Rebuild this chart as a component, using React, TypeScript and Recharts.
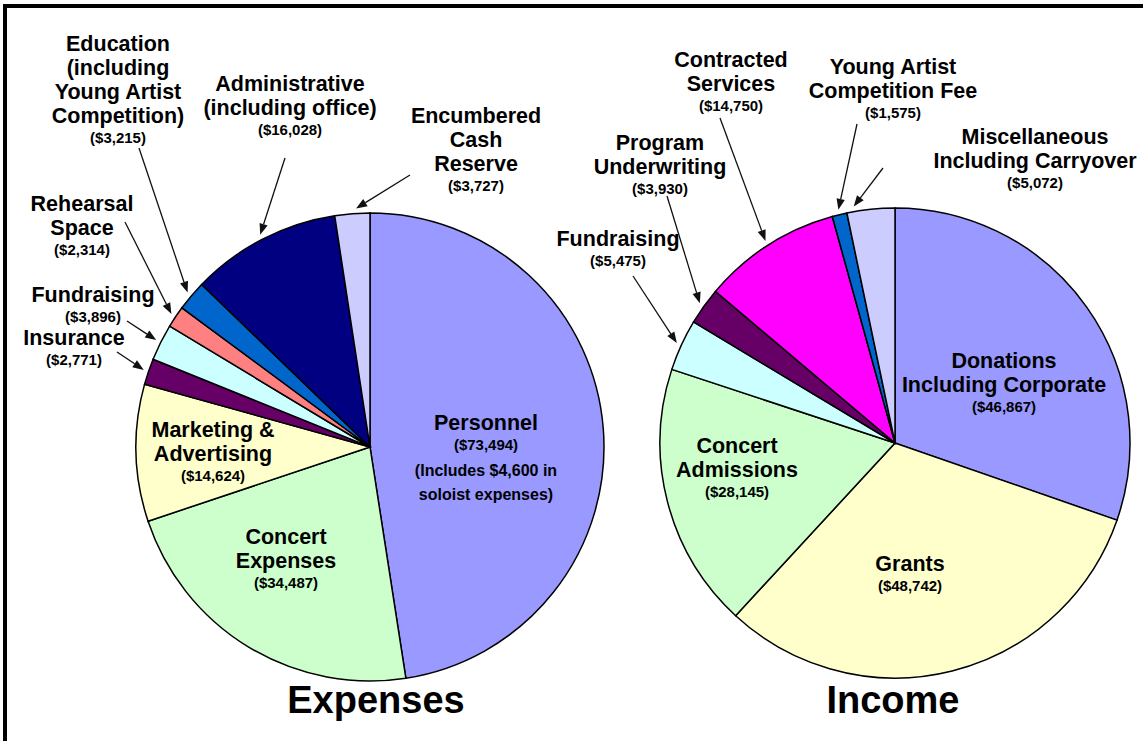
import { PieChart, Pie, Cell } from "recharts";

// ---- data ----
const expenseNames = [
  "Personnel",
  "Concert Expenses",
  "Marketing & Advertising",
  "Insurance",
  "Fundraising",
  "Rehearsal Space",
  "Education",
  "Administrative",
  "Encumbered Cash Reserve",
];
const expenseValues = [73494, 34487, 14624, 2771, 3896, 2314, 3215, 16028, 3727];
const expenseColors = ["#9999FF", "#CCFFCC", "#FFFFCC", "#660066", "#CCFFFF", "#FF8080", "#0066CC", "#000080", "#CCCCFF"];
const expenseLabelLines = [
  ["Personnel"],
  ["Concert", "Expenses"],
  ["Marketing &", "Advertising"],
  ["Insurance"],
  ["Fundraising"],
  ["Rehearsal", "Space"],
  ["Education", "(including", "Young Artist", "Competition)"],
  ["Administrative", "(including office)"],
  ["Encumbered", "Cash", "Reserve"],
];
const personnelNote = ["(Includes $4,600 in", "soloist expenses)"];

const incomeNames = [
  "Donations Including Corporate",
  "Grants",
  "Concert Admissions",
  "Fundraising",
  "Program Underwriting",
  "Contracted Services",
  "Young Artist Competition Fee",
  "Miscellaneous Including Carryover",
];
const incomeValues = [46867, 48742, 28145, 5475, 3930, 14750, 1575, 5072];
const incomeColors = ["#9999FF", "#FFFFCC", "#CCFFCC", "#CCFFFF", "#660066", "#FF00FF", "#0066CC", "#CCCCFF"];
const incomeLabelLines = [
  ["Donations", "Including Corporate"],
  ["Grants"],
  ["Concert", "Admissions"],
  ["Fundraising"],
  ["Program", "Underwriting"],
  ["Contracted", "Services"],
  ["Young Artist", "Competition Fee"],
  ["Miscellaneous", "Including Carryover"],
];

// ---- label placement, relative to each pie's centre ----
// dx/dy = first text line; tail = where the callout arrow starts; shift = nudge of tip angle (deg)
type Place = { dx: number; dy: number; tail?: [number, number]; shift?: number };

const expensePlaces: Place[] = [
  { dx: 116, dy: -24 },
  { dx: -84, dy: 90 },
  { dx: -157, dy: -17 },
  { dx: -296, dy: -109, tail: [-253, -95] },
  { dx: -277, dy: -152, tail: [-243, -126] },
  { dx: -288, dy: -243, tail: [-245, -225] },
  { dx: -252, dy: -403, tail: [-231, -299] },
  { dx: -80, dy: -363, tail: [-85, -289] },
  { dx: 106, dy: -331, tail: [40, -272], shift: -1 },
];

const incomePlaces: Place[] = [
  { dx: 109, dy: -82 },
  { dx: 15, dy: 121 },
  { dx: -158, dy: 3 },
  { dx: -277, dy: -204, tail: [-262, -167] },
  { dx: -235, dy: -300, tail: [-228, -247] },
  { dx: -164, dy: -383, tail: [-175, -325] },
  { dx: -2, dy: -376, tail: [-38, -319] },
  { dx: 140, dy: -306, tail: [-12, -275], shift: 4 },
];

const FONT = '"Liberation Sans", Arial, Helvetica, sans-serif';
const RAD = Math.PI / 180;
const LINE = 24;

const money = (v: number) => `($${v.toLocaleString("en-US")})`;

function makeLabel(lines: string[][], places: Place[], note?: { index: number; lines: string[] }) {
  return (props: any) => {
    const { cx, cy, midAngle, outerRadius, index, value } = props;
    const p = places[index];
    const ls = lines[index];
    const x = cx + p.dx;
    const y0 = cy + p.dy;
    const valueY = y0 + (ls.length - 1) * LINE + 21;

    let arrow = null;
    if (p.tail) {
      const a = (midAngle + (p.shift || 0)) * RAD;
      const r = outerRadius + 5;
      const tx = cx + r * Math.cos(a);
      const ty = cy - r * Math.sin(a);
      const sx = cx + p.tail[0];
      const sy = cy + p.tail[1];
      const len = Math.hypot(tx - sx, ty - sy);
      const ux = (tx - sx) / len;
      const uy = (ty - sy) / len;
      const bx = tx - ux * 11;
      const by = ty - uy * 11;
      const nx = -uy * 4.2;
      const ny = ux * 4.2;
      arrow = (
        <g>
          <line x1={sx} y1={sy} x2={bx} y2={by} stroke="#111" strokeWidth={1.3} />
          <polygon points={`${tx},${ty} ${bx + nx},${by + ny} ${bx - nx},${by - ny}`} fill="#111" />
        </g>
      );
    }

    return (
      <g key={`lbl-${index}`}>
        {arrow}
        {ls.map((t, i) => (
          <text
            key={i}
            x={x}
            y={y0 + i * LINE}
            textAnchor="middle"
            dominantBaseline="central"
            fontFamily={FONT}
            fontWeight="bold"
            fontSize={21.5}
            fill="#000"
          >
            {t}
          </text>
        ))}
        <text
          x={x}
          y={valueY}
          textAnchor="middle"
          dominantBaseline="central"
          fontFamily={FONT}
          fontWeight="bold"
          fontSize={15}
          fill="#000"
        >
          {money(value)}
        </text>
        {note && note.index === index
          ? note.lines.map((t, i) => (
              <text
                key={`n${i}`}
                x={x}
                y={valueY + 26 + i * 24}
                textAnchor="middle"
                dominantBaseline="central"
                fontFamily={FONT}
                fontWeight="bold"
                fontSize={16}
                fill="#000"
              >
                {t}
              </text>
            ))
          : null}
      </g>
    );
  };
}

const expenseData = expenseNames.map((name, i) => ({ name, value: expenseValues[i] }));
const incomeData = incomeNames.map((name, i) => ({ name, value: incomeValues[i] }));

export default function App() {
  return (
    <div style={{ position: "relative", width: 1143, height: 741, overflow: "hidden", background: "#fff" }}>
      <style>{`body{margin:0;}`}</style>
      <PieChart width={1143} height={741} margin={{ top: 0, right: 0, bottom: 0, left: 0 }}>
        <Pie
          data={expenseData}
          dataKey="value"
          nameKey="name"
          cx={370}
          cy={447}
          outerRadius={234}
          startAngle={90}
          endAngle={-270}
          stroke="#000"
          strokeWidth={1.5}
          label={makeLabel(expenseLabelLines, expensePlaces, { index: 0, lines: personnelNote })}
          labelLine={false}
          isAnimationActive={false}
        >
          {expenseData.map((d, i) => (
            <Cell key={d.name} fill={expenseColors[i]} />
          ))}
        </Pie>
        <Pie
          data={incomeData}
          dataKey="value"
          nameKey="name"
          cx={895}
          cy={443}
          outerRadius={235}
          startAngle={90}
          endAngle={-270}
          stroke="#000"
          strokeWidth={1.5}
          label={makeLabel(incomeLabelLines, incomePlaces)}
          labelLine={false}
          isAnimationActive={false}
        >
          {incomeData.map((d, i) => (
            <Cell key={d.name} fill={incomeColors[i]} />
          ))}
        </Pie>
      </PieChart>
      <svg
        width={1143}
        height={741}
        style={{ position: "absolute", left: 0, top: 0, pointerEvents: "none" }}
      >
        <path d="M5 741 L5 6 L1143 6" fill="none" stroke="#000" strokeWidth={4} />
        <text x={376} y={713} textAnchor="middle" fontFamily={FONT} fontWeight="bold" fontSize={38} fill="#000">
          Expenses
        </text>
        <text x={893} y={713} textAnchor="middle" fontFamily={FONT} fontWeight="bold" fontSize={38} fill="#000">
          Income
        </text>
      </svg>
    </div>
  );
}
